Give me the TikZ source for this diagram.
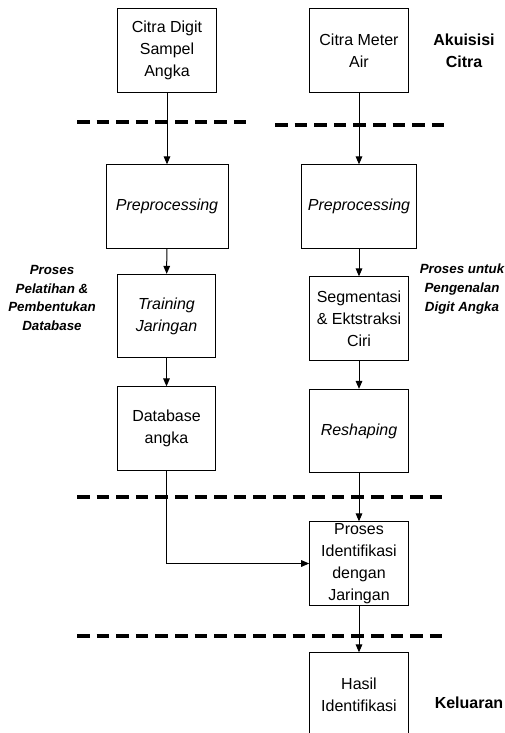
\documentclass[tikz,border=0pt]{standalone}
\usepackage{fontspec}
\setmainfont{Liberation Sans}
\usetikzlibrary{arrows.meta}

\tikzset{
  kotak/.style={draw, line width=0.75pt, align=center, minimum width=74pt, minimum height=62.5pt,
    inner sep=1pt, font=\fontsize{12}{16.5}\selectfont},
  panah/.style={-{Triangle[length=6pt,width=5pt]}, line width=0.75pt},
  batas/.style={line width=2.3pt, dash pattern=on 9.5pt off 5.2pt},
  ket/.style={align=center, font=\fontsize{12}{16.5}\selectfont\bfseries},
  ketmiring/.style={align=center, font=\fontsize{10}{14}\selectfont\bfseries\itshape}
}

\begin{document}
\begin{tikzpicture}[x=0.75pt, y=-0.75pt]
\useasboundingbox (0,0) rectangle (505,733);
% Kolom kiri: pelatihan
\node[kotak] (cdigit) at (167,50.5) {Citra Digit\\Sampel\\Angka};
\node[kotak, minimum width=91.5pt] (preL) at (167,206.5) {\itshape Preprocessing};
\node[kotak] (train) at (166.5,316) {\itshape Training\\\itshape Jaringan};
\node[kotak] (dbase) at (166.5,428.5) {Database\\angka};
% Kolom kanan: pengenalan
\node[kotak] (cmeter) at (359,50.5) {Citra Meter\\Air};
\node[kotak, minimum width=86pt] (preR) at (359,206.5) {\itshape Preprocessing};
\node[kotak] (segm) at (359,318.5) {Segmentasi\\\& Ektstraksi\\Ciri};
\node[kotak] (reshp) at (359,431) {\itshape Reshaping};
\node[kotak] (ident) at (359,563.5) {Proses\\Identifikasi\\dengan\\Jaringan};
\node[kotak] (hasil) at (359,694.5) {Hasil\\Identifikasi};
% Keterangan tahap
\node[ket] (akuisisi) at (464,50.5) {Akuisisi\\Citra};
\node[ketmiring] (latih) at (52,298) {Proses\\Pelatihan \&\\Pembentukan\\Database};
\node[ketmiring] (kenal) at (462,289) {Proses untuk\\Pengenalan\\Digit Angka};
\node[ket] (keluar) at (469,703) {Keluaran};
% Garis batas antar tahap
\draw[batas] (77,122) -- (248,122);
\draw[batas] (275,125) -- (446,125);
\draw[batas] (77,497) -- (446,497);
\draw[batas] (77,636) -- (446,636);
% Aliran proses
\draw[panah] (cdigit) -- (preL);
\draw[panah] (preL) -- (train);
\draw[panah] (train) -- (dbase);
\draw[panah] (cmeter) -- (preR);
\draw[panah] (preR) -- (segm);
\draw[panah] (segm) -- (reshp);
\draw[panah] (reshp) -- (ident);
\draw[panah] (dbase.south) |- (ident.west);
\draw[panah] (ident) -- (hasil);
\end{tikzpicture}
\end{document}
